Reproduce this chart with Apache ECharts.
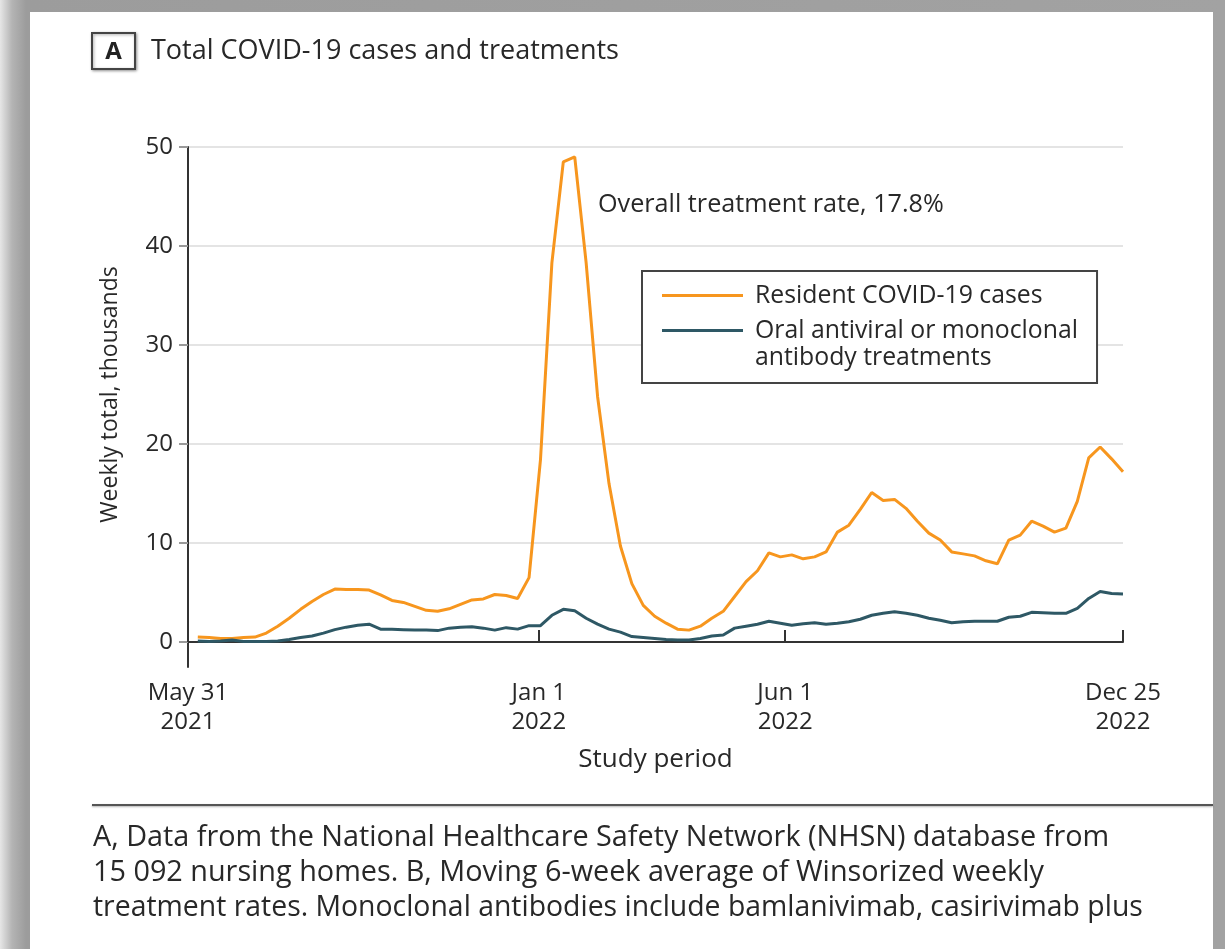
<!DOCTYPE html>
<html>
<head>
<meta charset="utf-8">
<script src="https://cdn.jsdelivr.net/npm/echarts@6/dist/echarts.min.js"></script>
<style>
  html, body { margin: 0; padding: 0; background: #fff; }
  #frame {
    position: relative; width: 1225px; height: 949px; overflow: hidden;
    background: linear-gradient(to right, #e6e6e6 0px, #b4b4b4 12px, #9c9c9c 26px, #a2a2a2 100%);
  }
  #sheet { position: absolute; left: 30px; top: 12px; width: 1183px; height: 937px; background: #fff; }
  #chart { position: absolute; left: 0; top: 0; width: 1225px; height: 949px; }
</style>
</head>
<body>
<div id="frame"><div id="sheet"></div><div id="chart"></div></div>
<script>
// Weekly totals (thousands), week ending Sunday, Jun 6 2021 through Dec 25 2022
const residentCases = [
  0.5, 0.45, 0.35, 0.35, 0.45, 0.5, 0.9, 1.6, 2.4, 3.3,
  4.1, 4.8, 5.35, 5.3, 5.3, 5.25, 4.75, 4.2, 4.0, 3.6,
  3.2, 3.1, 3.35, 3.8, 4.25, 4.35, 4.8, 4.7, 4.4, 6.5,
  18.4, 38.3, 48.5, 49.0, 38.3, 24.8, 16.0, 9.7, 5.9, 3.7,
  2.6, 1.9, 1.3, 1.2, 1.6, 2.4, 3.1, 4.6, 6.1, 7.2,
  9.0, 8.6, 8.8, 8.4, 8.6, 9.1, 11.1, 11.8, 13.4, 15.1,
  14.3, 14.4, 13.5, 12.2, 11.0, 10.3, 9.1, 8.9, 8.7, 8.2,
  7.9, 10.3, 10.8, 12.2, 11.7, 11.1, 11.5, 14.2, 18.6, 19.7,
  18.5, 17.2
];
const treatments = [
  0.1, 0.05, 0.1, 0.2, 0.05, 0.05, 0.05, 0.1, 0.25, 0.45,
  0.6, 0.9, 1.25, 1.5, 1.7, 1.8, 1.3, 1.3, 1.25, 1.2,
  1.2, 1.15, 1.4, 1.5, 1.55, 1.4, 1.2, 1.45, 1.3, 1.65,
  1.65, 2.7, 3.3, 3.15, 2.4, 1.8, 1.3, 1.0, 0.55, 0.45,
  0.35, 0.25, 0.2, 0.2, 0.35, 0.6, 0.7, 1.4, 1.6, 1.8,
  2.1, 1.9, 1.7, 1.85, 1.95, 1.8, 1.9, 2.05, 2.3, 2.7,
  2.9, 3.05, 2.9, 2.7, 2.4, 2.2, 1.95, 2.05, 2.1, 2.1,
  2.1, 2.5, 2.6, 3.0, 2.95, 2.9, 2.9, 3.4, 4.4, 5.1,
  4.9, 4.85
];

// Study period, counted in days from May 31 2021
const studyStart = new Date(2021, 4, 31);
const dayOf = (d) => Math.round((d - studyStart) / 86400000);
// Week-ending dates for each value
const weekEnding = residentCases.map((_, i) => dayOf(new Date(2021, 5, 6 + 7 * i)));

// Axis ticks and labels
const periodTicks = [
  dayOf(new Date(2021, 4, 31)),
  dayOf(new Date(2022, 0, 1)),
  dayOf(new Date(2022, 5, 1)),
  dayOf(new Date(2022, 11, 25))
];
const periodLabels = ['May 31\n2021', 'Jan 1\n2022', 'Jun 1\n2022', 'Dec 25\n2022'];
const weeklyTicks = [0, 10, 20, 30, 40, 50];

const casesName = 'Resident COVID-19 cases';
const treatName = 'Oral antiviral or monoclonal antibody treatments';

const ORANGE = '#F7961E';
const TEAL = '#2E5865';
const TEXT = '#282828';
const FONT = '"Open Sans", "Noto Sans", sans-serif';

const chart = echarts.init(document.getElementById('chart'), null, { renderer: 'canvas' });

chart.setOption({
  animation: false,
  textStyle: { fontFamily: FONT },
  grid: { left: 188, right: 102, top: 147, bottom: 282 },
  xAxis: {
    type: 'value',
    min: periodTicks[0],
    max: periodTicks[periodTicks.length - 1],
    name: 'Study period',
    nameLocation: 'middle',
    nameGap: 80,
    nameTextStyle: { fontSize: 26, color: TEXT, fontFamily: FONT },
    axisLine: { show: true, lineStyle: { color: '#333', width: 2 } },
    axisTick: { show: true, customValues: periodTicks, length: 12, inside: true, lineStyle: { color: '#333', width: 2 } },
    axisLabel: {
      customValues: periodTicks,
      formatter: (v) => {
        const i = periodTicks.indexOf(Math.round(v));
        return i >= 0 ? periodLabels[i] : '';
      },
      fontSize: 24, color: TEXT, lineHeight: 29, margin: 12, fontFamily: FONT,
      showMinLabel: true, showMaxLabel: true
    },
    splitLine: { show: false }
  },
  yAxis: {
    type: 'value',
    min: -2.525,
    max: 50,
    name: 'Weekly total, thousands',
    nameLocation: 'middle',
    nameRotate: 90,
    nameGap: 66,
    nameTextStyle: { fontSize: 23, color: TEXT, fontFamily: FONT, padding: [0, 0, 0, 25] },
    axisLine: { show: true, lineStyle: { color: '#333', width: 2 } },
    axisTick: { show: true, customValues: weeklyTicks, length: 9, lineStyle: { color: '#999', width: 2 } },
    axisLabel: { customValues: weeklyTicks, fontSize: 24, color: TEXT, margin: 15, fontFamily: FONT },
    splitLine: { show: true, lineStyle: { color: '#e4e4e4', width: 2 } }
  },
  legend: {
    left: 642,
    top: 271,
    orient: 'vertical',
    padding: [12, 19, 40, 20],
    itemGap: 10,
    itemWidth: 81,
    itemHeight: 3,
    icon: 'rect',
    borderColor: '#444',
    borderWidth: 2,
    backgroundColor: '#fff',
    data: [casesName, treatName],
    formatter: (name) => name === treatName ? 'Oral antiviral or monoclonal' : name,
    textStyle: { fontSize: 24.8, lineHeight: 25, color: TEXT, fontFamily: FONT, padding: [0, 0, 0, 7] }
  },
  series: [
    {
      name: casesName,
      type: 'line',
      symbol: 'none',
      lineStyle: { color: ORANGE, width: 3 },
      itemStyle: { color: ORANGE },
      data: weekEnding.map((t, i) => [t, residentCases[i]]),
      z: 3
    },
    {
      name: treatName,
      type: 'line',
      symbol: 'none',
      lineStyle: { color: TEAL, width: 3 },
      itemStyle: { color: TEAL },
      data: weekEnding.map((t, i) => [t, treatments[i]]),
      z: 4
    }
  ],
  graphic: [
    {
      type: 'rect',
      shape: { x: 92, y: 33, width: 43, height: 36 },
      style: { fill: '#fff', stroke: '#444', lineWidth: 2, shadowBlur: 3, shadowOffsetX: 1, shadowOffsetY: 1, shadowColor: 'rgba(0,0,0,0.35)' }
    },
    {
      type: 'text', x: 113.5, y: 52,
      style: { text: 'A', font: 'bold 24px ' + FONT, fill: '#222', align: 'center', verticalAlign: 'middle' }
    },
    {
      type: 'text', x: 151, y: 51,
      style: { text: 'Total COVID-19 cases and treatments', font: '27px ' + FONT, fill: TEXT, verticalAlign: 'middle' }
    },
    {
      type: 'text', x: 598, y: 205,
      style: { text: 'Overall treatment rate, 17.8%', font: '25.2px ' + FONT, fill: TEXT, verticalAlign: 'middle' }
    },
    {
      type: 'text', x: 755, y: 358, z: 100,
      style: { text: 'antibody treatments', font: '24.8px ' + FONT, fill: TEXT, verticalAlign: 'middle' }
    },
    {
      type: 'line',
      shape: { x1: 92, y1: 805, x2: 1213, y2: 805 },
      style: { stroke: '#555', lineWidth: 2, shadowBlur: 2, shadowColor: 'rgba(0,0,0,0.3)', shadowOffsetY: 1 }
    },
    {
      type: 'text', x: 93, y: 838,
      style: { text: 'A, Data from the National Healthcare Safety Network (NHSN) database from', font: '28.8px ' + FONT, fill: TEXT, verticalAlign: 'middle' }
    },
    {
      type: 'text', x: 93, y: 873,
      style: { text: '15 092 nursing homes. B, Moving 6-week average of Winsorized weekly', font: '28.8px ' + FONT, fill: TEXT, verticalAlign: 'middle' }
    },
    {
      type: 'text', x: 93, y: 908,
      style: { text: 'treatment rates. Monoclonal antibodies include bamlanivimab, casirivimab plus', font: '28.4px ' + FONT, fill: TEXT, verticalAlign: 'middle' }
    }
  ]
});
</script>
</body>
</html>
